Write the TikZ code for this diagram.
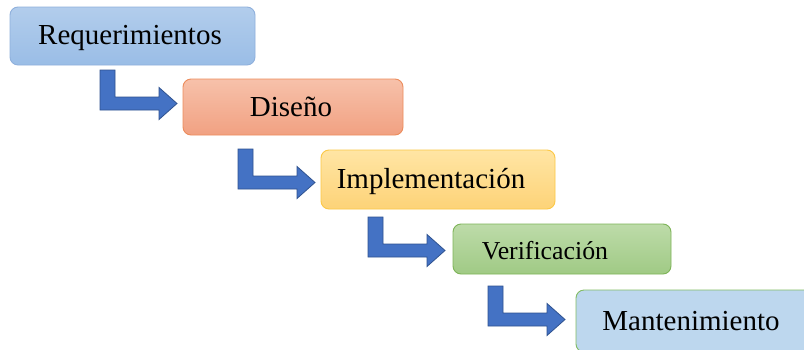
\documentclass[tikz,border=0pt]{standalone}
\usepackage{fontspec}
\setmainfont{Liberation Serif}
\begin{document}
\begin{tikzpicture}[x=1pt,y=-1pt,
  phase/.style={draw, line width=0.9pt, rounded corners=8pt, inner sep=0pt},
  lbl/.style={inner sep=0pt, anchor=center, font=\fontsize{29}{34}\selectfont},
  blockarrow/.style={fill=arrowfill, draw=arrowline, line width=0.8pt, line join=miter}]
\definecolor{arrowfill}{HTML}{4472C4}
\definecolor{arrowline}{HTML}{2F528F}
\useasboundingbox (0,0) rectangle (804,349);
\fill[white] (0,0) rectangle (804,349);

% phase boxes
\node[phase, draw={rgb,255:red,143;green,176;blue,220}, top color={rgb,255:red,178;green,205;blue,236}, bottom color={rgb,255:red,154;green,189;blue,230},
  minimum width=245pt, minimum height=58pt] (req) at (132.5,36) {};
\node[phase, draw={rgb,255:red,236;green,140;blue,92}, top color={rgb,255:red,247;green,193;blue,170}, bottom color={rgb,255:red,241;green,161;blue,130},
  minimum width=220pt, minimum height=56pt] (dis) at (293,107) {};
\node[phase, draw={rgb,255:red,252;green,200;blue,70}, top color={rgb,255:red,255;green,229;blue,164}, bottom color={rgb,255:red,253;green,211;blue,120},
  minimum width=234pt, minimum height=59pt] (imp) at (438,179.5) {};
\node[phase, draw={rgb,255:red,126;green,180;blue,88}, top color={rgb,255:red,189;green,219;blue,169}, bottom color={rgb,255:red,160;green,202;blue,133},
  minimum width=218pt, minimum height=50pt] (ver) at (562,249) {};
\node[phase, draw={rgb,255:red,130;green,188;blue,100}, fill={rgb,255:red,189;green,215;blue,238},
  minimum width=240pt, minimum height=62pt] (man) at (696,321) {};

% labels
\node[lbl] (treq) at (130,38) {Requerimientos};
\node[lbl] (tdis) at (291,107) {Diseño};
\node[lbl] (timp) at (431,181) {Implementación};
\node[lbl, font=\fontsize{25.8}{30}\selectfont] (tver) at (545,251) {Verificación};
\node[lbl] (tman) at (691,321) {Mantenimiento};

% bent block arrows between phases
\coordinate (a1) at (100,70);
\coordinate (a2) at (238,149);
\coordinate (a3) at (368,217);
\coordinate (a4) at (488,286);
\foreach \c in {a1,a2,a3,a4}{
  \draw[blockarrow] (\c) -- ++(15,0) -- ++(0,27) -- ++(44,0) -- ++(0,-9.5)
    -- ++(18,16) -- ++(-18,16) -- ++(0,-9.5) -- ++(-59,0) -- cycle;
}
\end{tikzpicture}
\end{document}
